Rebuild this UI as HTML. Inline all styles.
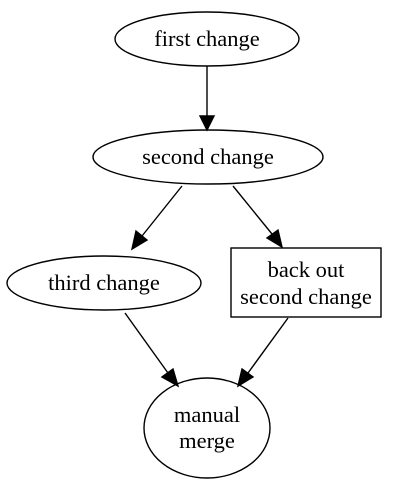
<!DOCTYPE html>
<html><head><style>html,body{margin:0;padding:0;background:#fff}svg{display:block}</style></head>
<body>
<svg width="402" height="485" viewBox="0 0 402 485" xmlns="http://www.w3.org/2000/svg" font-family="Liberation Serif, serif" font-size="22.5" text-anchor="middle">
<g fill="none" stroke="#000" stroke-width="1.4">
<ellipse cx="207" cy="39" rx="92" ry="27"/>
<ellipse cx="208" cy="157" rx="115" ry="27"/>
<ellipse cx="104" cy="283" rx="97" ry="27"/>
<rect x="231" y="248" width="150" height="69"/>
<ellipse cx="207" cy="428" rx="63" ry="50"/>
<line x1="207" y1="66" x2="207" y2="116"/>
<line x1="182" y1="186" x2="142" y2="236"/>
<line x1="233" y1="186" x2="272" y2="234"/>
<line x1="125" y1="313" x2="168" y2="373"/>
<line x1="288" y1="318" x2="248" y2="373"/>
</g>
<g fill="#000" stroke="#000" stroke-width="1.4">
<polygon points="200,116 214,116 207,130"/>
<polygon points="136,231 147,240 132,249"/>
<polygon points="267,238 278,230 282,247"/>
<polygon points="162,377 173,369 178,386"/>
<polygon points="242,369 253,377 238,386"/>
</g>
<text x="207" y="46">first change</text>
<text x="208" y="164">second change</text>
<text x="104" y="290">third change</text>
<text x="306" y="277">back out</text>
<text x="306" y="304">second change</text>
<text x="207" y="422">manual</text>
<text x="207" y="448">merge</text>
</svg>
</body></html>
